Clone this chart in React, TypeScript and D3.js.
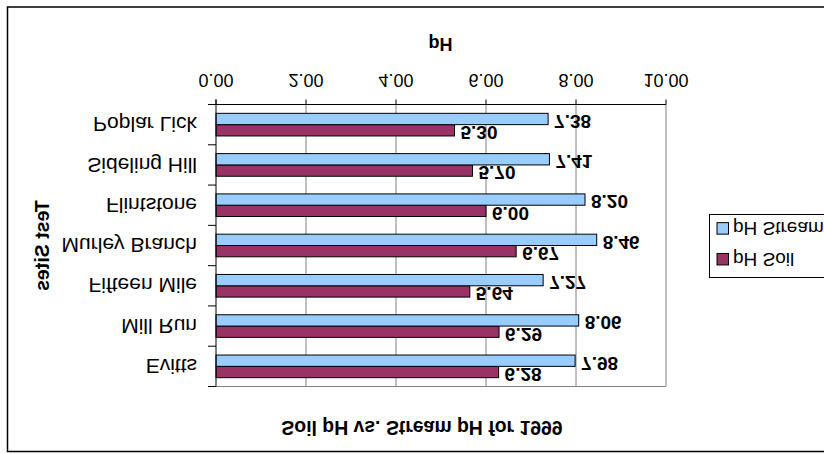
import React from "react";
import * as d3 from "d3";

const categories = ["Evitts", "Mill Run", "Fifteen Mile", "Murley Branch", "Flintstone", "Sideling Hill", "Poplar Lick"];
const soilPH = [6.28, 6.29, 5.64, 6.67, 6.0, 5.7, 5.3];
const streamPH = [7.98, 8.06, 7.27, 8.46, 8.2, 7.41, 7.38];
const seriesNames = ["pH Soil", "pH Stream"];
const seriesColors = ["#993366", "#99CCFF"];
const xTicks = [0, 2, 4, 6, 8, 10];
const title = "Soil pH vs. Stream pH for 1999";
const xTitle = "pH";
const yTitle = "Test Sites";

const W = 824;
const H = 454;
const FONT = "'Liberation Sans', Arial, sans-serif";

export default function App() {
  const left = 216, right = 666, top = 67.5, bottom = 349.5;
  const x = d3.scaleLinear().domain([0, 10]).range([left, right]);
  const y = d3.scaleBand<string>().domain(categories).range([top, bottom]).padding(0);
  const sub = d3.scaleBand<string>().domain(seriesNames).range([0, y.bandwidth()]).paddingInner(0).paddingOuter(0.78);
  const series = [soilPH, streamPH];

  const boundaries = categories.map((c) => y(c) as number).concat([bottom]);

  return (
    <svg width={W} height={H} style={{ position: "absolute", left: 0, top: 0, display: "block" }} fontFamily={FONT}>
      <rect x={0} y={0} width={W} height={H} fill="#fff" />
      <g transform={`translate(0,${H}) scale(1,-1)`}>
        {/* outer frame */}
        <rect x={7.5} y={2.5} width={840} height={444.5} fill="none" stroke="#000" strokeWidth={1.5} />
        {/* title */}
        <text x={422} y={33} textAnchor="middle" fontWeight="bold" fontSize={19.4}>{title}</text>
        {/* gridlines */}
        {xTicks.slice(1).map((t) => (
          <line key={"g" + t} x1={x(t)} x2={x(t)} y1={top} y2={bottom} stroke="#808080" strokeWidth={1} />
        ))}
        <line x1={left} x2={right} y1={top} y2={top} stroke="#808080" strokeWidth={1} />
        {/* bars */}
        {categories.map((c, i) =>
          series.map((s, k) => {
            const by = (y(c) as number) + (sub(seriesNames[k]) as number);
            const bh = sub.bandwidth();
            return (
              <g key={c + k}>
                <rect x={x(0)} y={by} width={x(s[i]) - x(0)} height={bh} fill={seriesColors[k]} stroke="#000" strokeWidth={1} />
                <text x={x(s[i]) + 6} y={by + bh / 2 - 2.5} dy="0.35em" fontWeight="bold" fontSize={19}>
                  {s[i].toFixed(2)}
                </text>
              </g>
            );
          })
        )}
        {/* x axis */}
        <line x1={left} x2={right} y1={bottom} y2={bottom} stroke="#000" strokeWidth={1} />
        {xTicks.map((t) => (
          <g key={"t" + t}>
            <line x1={x(t)} x2={x(t)} y1={bottom} y2={bottom + 5} stroke="#000" strokeWidth={1} />
            <text x={x(t)} y={380} textAnchor="middle" fontSize={18}>{t.toFixed(2)}</text>
          </g>
        ))}
        <text x={440.5} y={416} textAnchor="middle" fontWeight="bold" fontSize={18}>{xTitle}</text>
        {/* y axis */}
        <line x1={left} x2={left} y1={top} y2={bottom + 5} stroke="#000" strokeWidth={1} />
        {boundaries.map((b, i) => (
          <line key={"yt" + i} x1={left - 8} x2={left} y1={b} y2={b} stroke="#000" strokeWidth={1} />
        ))}
        {categories.map((c) => (
          <text key={"l" + c} x={197} y={(y(c) as number) + y.bandwidth() / 2} dy="0.35em" textAnchor="end" fontSize={21}>
            {c}
          </text>
        ))}
        <text transform={`translate(42.5,${(top + bottom) / 2}) rotate(-90)`} dy="0.35em" textAnchor="middle" fontWeight="bold" fontSize={19.5}>
          {yTitle}
        </text>
        {/* legend */}
        <rect x={709.5} y={176.5} width={200} height={63} fill="#fff" stroke="#000" strokeWidth={1} />
        {seriesNames.map((n, k) => {
          const cy = k === 0 ? 194.8 : 225.6;
          return (
            <g key={"lg" + n}>
              <rect x={717} y={cy - 5.75} width={11.5} height={11.5} fill={seriesColors[k]} stroke="#000" strokeWidth={1} />
              <text x={733} y={cy} dy="0.35em" fontSize={19}>{n}</text>
            </g>
          );
        })}
      </g>
    </svg>
  );
}
